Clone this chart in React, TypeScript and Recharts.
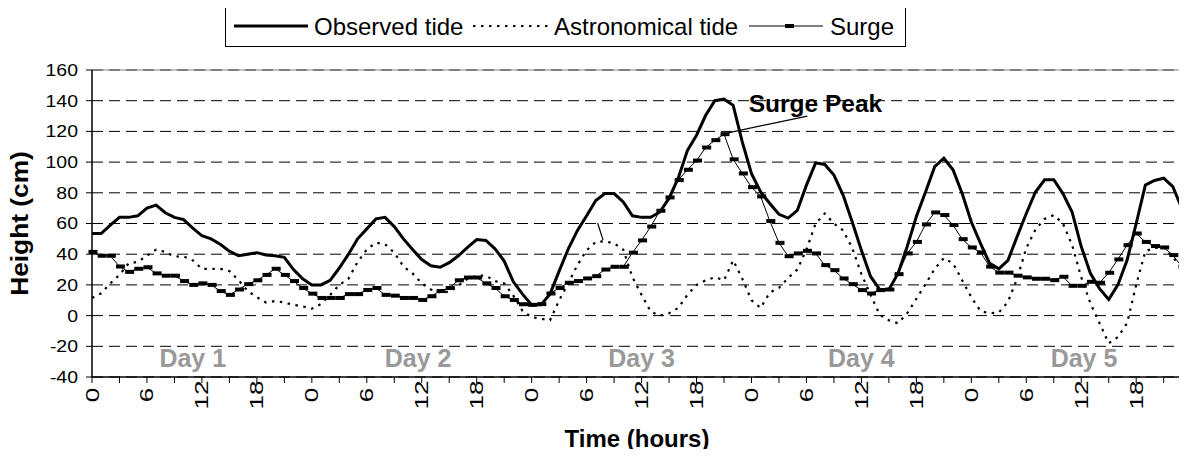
import React from 'react'
import { LineChart, Line, XAxis, YAxis, CartesianGrid, ReferenceLine, ReferenceDot } from 'recharts'

const FONT = '"Liberation Sans", Arial, Helvetica, sans-serif'

// hourly samples over five days (hour 0 .. 119)
const hours = Array.from({ length: 120 }, (_, i) => i)

const observedTide = [
  53.5, 53.5, 59, 64, 64, 65, 70, 72, 67, 64, 62.5, 57, 52, 50, 46.5, 42, 39, 40, 41, 39.5, 39, 38, 30, 24,
  20, 20, 23, 31, 40, 50, 56.5, 63, 64, 58, 50, 43, 36.5, 32.5, 31.5, 34.5, 39, 44.5, 49.5, 49, 43.5, 35.5, 22, 14,
  7, 7, 14, 29, 43.5, 55.5, 65, 75, 79.5, 79.5, 74, 65, 64, 64, 67.5, 76.5, 89.5, 107.5, 117.5, 130.5, 140, 141, 137, 113,
  92.5, 80.5, 73, 66, 63.5, 68.5, 85, 99.5, 98.5, 91.5, 78.5, 61, 42.5, 25.5, 17, 17, 27.5, 45, 64.5, 80.5, 97, 102.5, 95, 79.5,
  61, 47, 34, 30.5, 36, 51.5, 66.5, 80.5, 88.5, 88.5, 79.5, 67.5, 45, 27.5, 17.5, 10.5, 20, 36, 60, 85, 88, 89.5, 84, 69.5,
]

const astronomicalTide = [
  11.5, 14.5, 21, 26.5, 34, 35, 39, 43, 41.5, 38.5, 38.5, 36, 30.5, 30.5, 30.5, 29, 23, 16, 12, 8.5, 9.5, 8.5, 7, 6,
  4.5, 7.5, 13.5, 20, 24, 35, 43, 47.5, 46.5, 41, 32, 27.5, 21, 17, 15, 15.5, 19.5, 24, 26, 26, 22.5, 21, 13, 3,
  -1, -2, -3, 10, 21, 33, 42.5, 48, 48.5, 47, 43, 25, 13.5, 2.5, 0, 1.5, 5, 13.5, 20, 23, 25, 23, 36, 24,
  10, 5, 15, 18, 24.5, 30, 43, 60, 66.5, 60, 55.5, 44, 27, 13.5, 0.5, -3, -5, 1.5, 11, 20.5, 30.5, 37.5, 34, 23,
  12, 3, 1.5, 2, 9, 24, 44, 56, 63, 65.5, 60, 46, 25, 8, -5, -18, -14, -5, 20, 42, 44, 44.5, 38, 31,
]

const surge = [
  41.5, 39, 39, 32, 28.5, 30.5, 31.5, 27.5, 26, 26, 22.5, 20, 21, 20, 16, 13.5, 17, 20.5, 23, 26.5, 30.5, 26.5, 22.5, 18,
  14.3, 11.5, 11.5, 11.5, 14, 14, 16.7, 18, 13.5, 13, 11.5, 11.5, 10.2, 12.6, 16, 18, 23, 24.8, 24.8, 21, 18, 12.6, 10.2, 7.4,
  7, 7.5, 14.4, 18, 21.4, 22.5, 24.2, 25.7, 30, 31.8, 31.8, 41, 49, 58, 68.3, 77, 88.3, 95, 101, 109.5, 114.3, 118.2, 101.8, 92.6,
  83.7, 77.6, 61.6, 47.4, 38.7, 40.5, 42.2, 40.5, 32.9, 29.6, 24.2, 20.5, 16.6, 14.4, 16.6, 17, 27, 40.5, 48, 59.4, 67.2, 65.5, 59, 49.8,
  44.4, 41.2, 31.9, 28, 28, 26, 24.9, 24, 24, 23.1, 25.3, 19.4, 19.4, 22, 21.4, 27.9, 36.6, 45.9, 53.5, 48, 45.3, 44.4, 39.4, 31.8,
]

const yTicks = [-40, -20, 0, 20, 40, 60, 80, 100, 120, 140, 160]
const xTicks = Array.from({ length: 40 }, (_, i) => i * 3)
const dayNames = ['Day 1', 'Day 2', 'Day 3', 'Day 4', 'Day 5']

const data = hours.map((h, i) => ({
  hour: h,
  observed: observedTide[i],
  astro: astronomicalTide[i],
  surge: surge[i],
}))

const HourTick = ({ x, y, payload }: any) => {
  const v = payload.value
  if (v % 6 !== 0) return null
  return (
    <g transform={`translate(${x + 6.5},${y + 10}) rotate(-90)`}>
      <text x={0} y={0} textAnchor="middle" fontSize={18} fontFamily={FONT} fill="#000" transform="scale(1.45,1)">
        {v % 24}
      </text>
    </g>
  )
}

const HeightTick = ({ x, y, payload }: any) => (
  <g transform={`translate(${x},${y})`}>
    <text x={0} y={0} dy="0.36em" textAnchor="end" fontSize={16.5} fontFamily={FONT} fill="#000" transform="scale(1.18,1)">
      {payload.value}
    </text>
  </g>
)

const SurgeMarker = ({ cx, cy }: any) => {
  if (cx == null || cy == null) return null
  return <rect x={cx - 3.5} y={cy - 2} width={9} height={4} fill="#000" />
}

const YTitle = ({ viewBox }: any) => (
  <text
    transform={`translate(${viewBox.x + 28},${viewBox.y + viewBox.height / 2}) rotate(-90) scale(1.12,1)`}
    textAnchor="middle"
    fontSize={23.5}
    fontWeight="bold"
    fontFamily={FONT}
    fill="#000"
  >
    Height (cm)
  </text>
)

const XTitle = ({ viewBox }: any) => (
  <text
    x={viewBox.x + viewBox.width / 2}
    y={viewBox.y + 70}
    textAnchor="middle"
    fontSize={24}
    fontWeight="bold"
    fontFamily={FONT}
    fill="#000"
  >
    Time (hours)
  </text>
)

function LegendBox() {
  return (
    <div
      style={{
        position: 'absolute',
        left: 225,
        top: 5,
        width: 681,
        height: 42,
        border: '1px solid #000',
        boxSizing: 'border-box',
        background: '#fff',
      }}
    >
      <svg width={679} height={40} style={{ display: 'block' }}>
        <line x1={8} y1={20} x2={82} y2={20} stroke="#000" strokeWidth={3} />
        <text x={88} y={29} fontSize={24} fontFamily={FONT} fill="#000">Observed tide</text>
        <line x1={247} y1={20} x2={325} y2={20} stroke="#000" strokeWidth={2} strokeDasharray="2.5 5.5" />
        <text x={328} y={29} fontSize={24} fontFamily={FONT} fill="#000">Astronomical tide</text>
        <line x1={523} y1={20} x2={597} y2={20} stroke="#000" strokeWidth={1} />
        <rect x={559} y={18} width={9} height={4} fill="#000" />
        <text x={604} y={29} fontSize={24} fontFamily={FONT} fill="#000">Surge</text>
      </svg>
    </div>
  )
}

export default function App() {
  return (
    <div style={{ position: 'relative', margin: -8, width: 1187, height: 457, background: '#fff' }}>
      <LineChart width={1187} height={457} data={data} margin={{ top: 70, right: 5, left: 0, bottom: 30 }}>
        <ReferenceLine y={160} stroke="#808080" strokeWidth={1} />
        <ReferenceLine x={119} stroke="#808080" strokeWidth={1.5} />
        <CartesianGrid vertical={false} stroke="#000" strokeDasharray="11 6" />
        <XAxis
          dataKey="hour"
          type="number"
          domain={[0, 119]}
          ticks={xTicks}
          interval={0}
          tick={<HourTick />}
          tickSize={6}
          tickMargin={2}
          axisLine={{ stroke: '#000', strokeWidth: 1.5 }}
          tickLine={{ stroke: '#000' }}
          height={50}
          label={<XTitle />}
        />
        <YAxis
          domain={[-40, 160]}
          ticks={yTicks}
          interval={0}
          tick={<HeightTick />}
          tickSize={6}
          tickMargin={8}
          axisLine={{ stroke: '#000', strokeWidth: 1.5 }}
          tickLine={{ stroke: '#000' }}
          width={92}
          label={<YTitle />}
        />
        {dayNames.map((name, i) => (
          <ReferenceDot
            key={name}
            x={[11, 35.6, 60, 84, 108.3][i]}
            y={-28}
            r={0}
            fill="none"
            stroke="none"
            label={{ value: name, position: 'center', fill: '#999', fontSize: 25, fontWeight: 'bold', fontFamily: FONT }}
          />
        ))}
        <Line
          type="linear"
          dataKey="astro"
          name="Astronomical tide"
          stroke="#000"
          strokeWidth={2.2}
          strokeDasharray="2.5 5.5"
          dot={false}
          isAnimationActive={false}
        />
        <Line
          type="linear"
          dataKey="surge"
          name="Surge"
          stroke="#000"
          strokeWidth={1}
          dot={<SurgeMarker />}
          isAnimationActive={false}
        />
        <Line
          type="linear"
          dataKey="observed"
          name="Observed tide"
          stroke="#000"
          strokeWidth={3}
          dot={false}
          isAnimationActive={false}
        />
        <ReferenceLine
          segment={[{ x: 69.3, y: 118.9 }, { x: 78.1, y: 130 }]}
          stroke="#000"
          strokeWidth={1.2}
        />
        <ReferenceLine
          segment={[{ x: 55.2, y: 60.3 }, { x: 55.8, y: 49.2 }]}
          stroke="#000"
          strokeWidth={1.2}
        />
        <ReferenceDot
          x={71.7}
          y={138.4}
          r={0}
          fill="none"
          stroke="none"
          label={{ value: 'Surge Peak', position: 'right', offset: 0, fill: '#000', fontSize: 24.5, fontWeight: 'bold', fontFamily: FONT }}
        />
      </LineChart>
      <LegendBox />
    </div>
  )
}
